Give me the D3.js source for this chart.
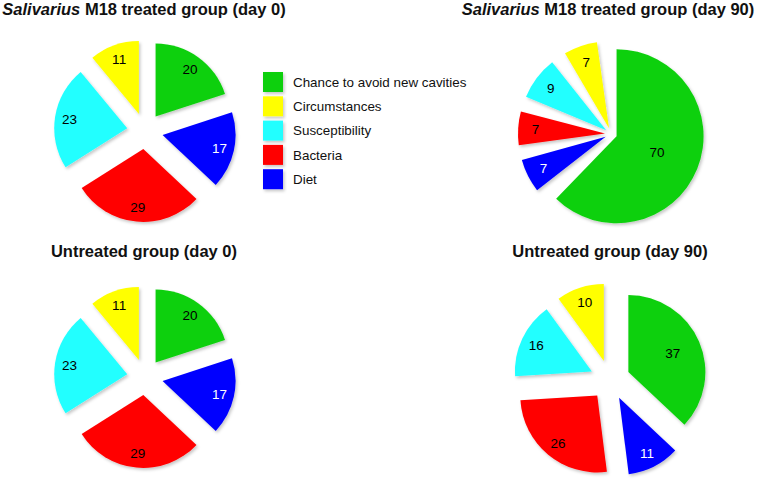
<!DOCTYPE html>
<html>
<head>
<meta charset="utf-8">
<script src="https://cdn.jsdelivr.net/npm/d3@7"></script>
<style>
  body { margin: 0; background: #fff; }
  svg { display: block; font-family: "Liberation Sans", Arial, Helvetica, sans-serif; }
</style>
</head>
<body>
<div id="chart-container"></div>
<script>
  // legend order
  const categories = [
    'Chance to avoid new cavities',
    'Circumstances',
    'Susceptibility',
    'Bacteria',
    'Diet',
  ];
  const colors = ['#10d010', '#ffff00', '#22ffff', '#ff0000', '#0000ff'];

  // values per category, same order as categories
  const treatedDay0 = [20, 11, 23, 29, 17];
  const treatedDay90 = [70, 7, 9, 7, 7];
  const untreatedDay0 = [20, 11, 23, 29, 17];
  const untreatedDay90 = [37, 10, 16, 26, 11];

  // clockwise order of the slices from 12 o'clock
  const sliceOrder = [0, 4, 3, 2, 1];

  const width = 758;
  const height = 482;

  const panels = [
    { title: ['Salivarius', ' M18 treated group (day 0)'], values: treatedDay0,
      cx: 145, cy: 131, r: 73, explode: 18, pad: 0, titleX: 144, titleY: 15 },
    { title: ['Salivarius', ' M18 treated group (day 90)'], values: treatedDay90,
      cx: 611, cy: 134, r: 87, explode: 6, pad: 8 * Math.PI / 180, titleX: 608, titleY: 15 },
    { title: [null, 'Untreated group (day 0)'], values: untreatedDay0,
      cx: 145, cy: 377, r: 73, explode: 18, pad: 0, titleX: 144, titleY: 257 },
    { title: [null, 'Untreated group (day 90)'], values: untreatedDay90,
      cx: 610, cy: 380, r: 77, explode: 20, pad: 0, titleX: 610, titleY: 257 },
  ];

  const colorScale = d3.scaleOrdinal().domain(categories).range(colors);

  const svg = d3
    .select('#chart-container')
    .append('svg')
    .attr('width', width)
    .attr('height', height);

  const defs = svg.append('defs');
  defs.append('filter')
    .attr('id', 'shadow')
    .attr('x', '-20%').attr('y', '-20%')
    .attr('width', '140%').attr('height', '140%')
    .append('feDropShadow')
    .attr('dx', 1.5)
    .attr('dy', 2)
    .attr('stdDeviation', 1.6)
    .attr('flood-color', '#000')
    .attr('flood-opacity', 0.22);

  function labelFraction(v) {
    if (v >= 50) return 0.5;
    if (v >= 35) return 0.63;
    return 0.8;
  }

  panels.forEach((p) => {
    const rows = sliceOrder.map((i) => ({ name: categories[i], value: p.values[i] }));

    const pie = d3.pie()
      .sort(null)
      .value((d) => d.value)
      .padAngle(p.pad)
      .startAngle(-p.pad / 2)
      .endAngle(2 * Math.PI - p.pad / 2);

    const arcGenerator = d3.arc().innerRadius(0).outerRadius(p.r);

    const g = svg.append('g').attr('transform', `translate(${p.cx}, ${p.cy})`);

    const slice = g.selectAll('g.slice')
      .data(pie(rows))
      .enter()
      .append('g')
      .attr('class', 'slice')
      .attr('transform', (d) => {
        const a = (d.startAngle + d.endAngle) / 2;
        return `translate(${Math.sin(a) * p.explode}, ${-Math.cos(a) * p.explode})`;
      });

    slice.append('path')
      .attr('d', arcGenerator)
      .attr('fill', (d) => colorScale(d.data.name))
      .attr('filter', 'url(#shadow)');

    slice.append('text')
      .attr('text-anchor', 'middle')
      .attr('dy', '0.36em')
      .style('font-size', '13.5px')
      .style('fill', (d) => (d.data.name === 'Diet' ? '#fff' : '#000'))
      .attr('transform', (d) => {
        const lr = p.r * labelFraction(d.value);
        const [x, y] = d3.arc().innerRadius(lr).outerRadius(lr).centroid(d);
        return `translate(${x}, ${y})`;
      })
      .text((d) => d.value);

    // title
    const title = svg.append('text')
      .attr('x', p.titleX)
      .attr('y', p.titleY)
      .attr('text-anchor', 'middle')
      .style('font-size', '16.5px')
      .style('font-weight', 'bold')
      .style('fill', '#111');
    if (p.title[0]) {
      title.append('tspan').style('font-style', 'italic').text(p.title[0]);
    }
    title.append('tspan').text(p.title[1]);
  });

  // legend
  const legend = svg.append('g').attr('transform', 'translate(263, 72)');
  const item = legend.selectAll('g')
    .data(categories)
    .enter()
    .append('g')
    .attr('transform', (d, i) => `translate(0, ${i * 24.3})`);

  item.append('rect')
    .attr('width', 20)
    .attr('height', 20)
    .attr('fill', (d) => colorScale(d))
    .attr('filter', 'url(#shadow)');

  item.append('text')
    .attr('x', 30)
    .attr('y', 10)
    .attr('dy', '0.36em')
    .style('font-size', '13.4px')
    .style('fill', '#111')
    .text((d) => d);
</script>
</body>
</html>
